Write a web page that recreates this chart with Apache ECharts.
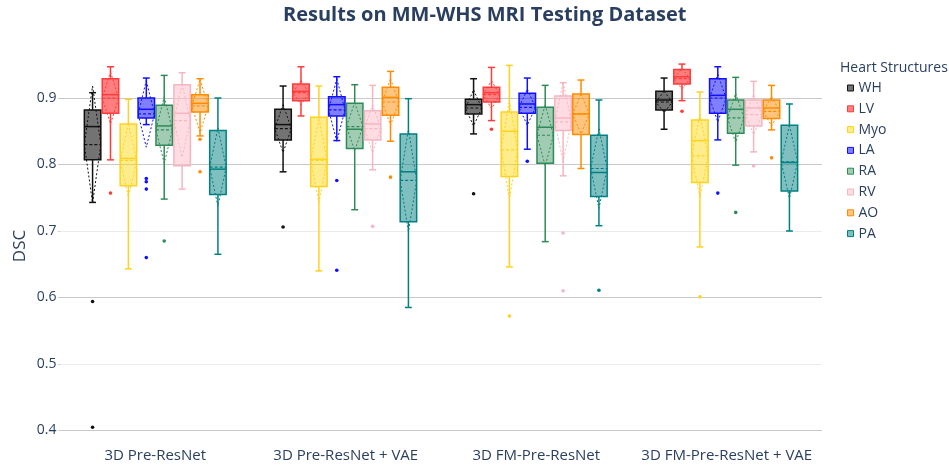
<!DOCTYPE html>
<html>
<head>
<meta charset="utf-8">
<script src="https://cdn.jsdelivr.net/npm/echarts@6/dist/echarts.min.js"></script>
<style>
  html, body { margin: 0; padding: 0; background: #ffffff; }
  #chart { width: 949px; height: 465px; }
</style>
</head>
<body>
<div id="chart"></div>
<script>
// Methods on the x axis
const methods = ['3D Pre-ResNet', '3D Pre-ResNet + VAE', '3D FM-Pre-ResNet', '3D FM-Pre-ResNet + VAE'];
// Heart structures, one box per method each
const structures = ['WH', 'LV', 'Myo', 'LA', 'RA', 'RV', 'AO', 'PA'];
// Y-axis tick values
const yTicks = [0.4, 0.5, 0.6, 0.7, 0.8, 0.9];

// Box statistics per method: [lowerFence, q1, median, q3, upperFence, mean, sd]
const WH  = [[0.743, 0.807, 0.857, 0.882, 0.908, 0.830, 0.088],
             [0.789, 0.837, 0.860, 0.883, 0.918, 0.854, 0.036],
             [0.846, 0.876, 0.890, 0.898, 0.929, 0.885, 0.027],
             [0.853, 0.882, 0.897, 0.910, 0.930, 0.894, 0.016]];
const LV  = [[0.807, 0.877, 0.905, 0.929, 0.947, 0.900, 0.039],
             [0.873, 0.896, 0.910, 0.921, 0.947, 0.908, 0.018],
             [0.866, 0.894, 0.908, 0.916, 0.946, 0.905, 0.021],
             [0.896, 0.921, 0.932, 0.943, 0.951, 0.929, 0.015]];
const Myo = [[0.643, 0.768, 0.809, 0.861, 0.898, 0.806, 0.055],
             [0.640, 0.767, 0.808, 0.871, 0.918, 0.806, 0.063],
             [0.646, 0.782, 0.850, 0.879, 0.949, 0.822, 0.074],
             [0.676, 0.773, 0.836, 0.867, 0.909, 0.813, 0.062]];
const LA  = [[0.860, 0.870, 0.883, 0.900, 0.930, 0.876, 0.050],
             [0.836, 0.873, 0.890, 0.902, 0.932, 0.882, 0.047],
             [0.823, 0.877, 0.891, 0.907, 0.930, 0.886, 0.027],
             [0.837, 0.877, 0.904, 0.929, 0.947, 0.900, 0.036]];
const RA  = [[0.748, 0.829, 0.858, 0.889, 0.934, 0.852, 0.050],
             [0.732, 0.824, 0.853, 0.892, 0.920, 0.857, 0.036],
             [0.684, 0.802, 0.856, 0.886, 0.919, 0.844, 0.046],
             [0.799, 0.847, 0.883, 0.897, 0.931, 0.870, 0.037]];
const RV  = [[0.763, 0.798, 0.877, 0.920, 0.938, 0.866, 0.055],
             [0.792, 0.837, 0.861, 0.881, 0.919, 0.854, 0.036],
             [0.783, 0.851, 0.870, 0.903, 0.923, 0.864, 0.060],
             [0.819, 0.858, 0.885, 0.897, 0.925, 0.875, 0.030]];
const AO  = [[0.843, 0.879, 0.892, 0.905, 0.929, 0.888, 0.040],
             [0.835, 0.874, 0.901, 0.916, 0.940, 0.894, 0.035],
             [0.794, 0.845, 0.876, 0.906, 0.927, 0.876, 0.030],
             [0.852, 0.869, 0.885, 0.897, 0.919, 0.880, 0.022]];
const PA  = [[0.665, 0.755, 0.793, 0.851, 0.900, 0.796, 0.059],
             [0.585, 0.714, 0.789, 0.846, 0.899, 0.776, 0.077],
             [0.708, 0.752, 0.788, 0.844, 0.897, 0.794, 0.060],
             [0.700, 0.760, 0.803, 0.859, 0.891, 0.804, 0.055]];

// Outliers: [methodIndex, value]
const WH_OUT  = [[0, 0.594], [0, 0.405], [1, 0.706], [2, 0.756]];
const LV_OUT  = [[0, 0.757], [2, 0.853], [3, 0.880]];
const Myo_OUT = [[2, 0.572], [3, 0.601]];
const LA_OUT  = [[0, 0.779], [0, 0.774], [0, 0.763], [0, 0.660], [1, 0.776], [1, 0.641], [2, 0.805], [3, 0.757]];
const RA_OUT  = [[0, 0.685], [3, 0.728]];
const RV_OUT  = [[1, 0.707], [2, 0.697], [2, 0.610], [3, 0.798]];
const AO_OUT  = [[0, 0.838], [0, 0.789], [1, 0.781], [3, 0.810]];
const PA_OUT  = [[2, 0.611]];

const boxStats = [WH, LV, Myo, LA, RA, RV, AO, PA];
const outliers = [WH_OUT, LV_OUT, Myo_OUT, LA_OUT, RA_OUT, RV_OUT, AO_OUT, PA_OUT];

// Colours: outline and translucent fill per structure
const lineColors = ['#111111', '#ff3b3b', '#ffd21f', '#1010ff', '#2e8b57', '#f4b6c2', '#ff8c00', '#008080'];
const fillColors = ['rgba(0,0,0,0.55)', 'rgba(255,0,0,0.5)', 'rgba(255,215,0,0.45)', 'rgba(0,0,255,0.5)',
                    'rgba(46,139,87,0.45)', 'rgba(255,192,203,0.55)', 'rgba(255,140,0,0.5)', 'rgba(0,128,128,0.5)'];

const TEXT = '#2a3f5f';
const FONT = '"Open Sans", "Liberation Sans", sans-serif';
const GROUP_FRAC = 0.752;   // share of a category band taken by its boxes
const BOX_FRAC = 0.92;      // box width relative to its slot
const CAP_FRAC = 0.42;      // whisker cap width relative to box width

function slotGeometry(api, g, s) {
  const center = api.coord([g, 0.9])[0];
  const band = api.size([1, 0])[0];
  const slotW = band * GROUP_FRAC / structures.length;
  return { xc: center - band * GROUP_FRAC / 2 + slotW * (s + 0.5), bw: slotW * BOX_FRAC };
}

function makeBoxRenderer(s) {
  return function (params, api) {
    const g = api.value(0);
    const lo = api.value(1), q1 = api.value(2), med = api.value(3), q3 = api.value(4),
          hi = api.value(5), mean = api.value(6), sd = api.value(7);
    const { xc, bw } = slotGeometry(api, g, s);
    const y = v => api.coord([g, v])[1];
    const half = bw / 2, cap = bw * CAP_FRAC / 2;
    const stroke = lineColors[s];
    const solid = { stroke: stroke, lineWidth: 1.5, fill: null };
    const dashed = { stroke: stroke, lineWidth: 1.2, lineDash: [3, 2], fill: null };
    return {
      type: 'group',
      children: [
        { type: 'line', shape: { x1: xc, y1: y(q3), x2: xc, y2: y(hi) }, style: solid },
        { type: 'line', shape: { x1: xc - cap, y1: y(hi), x2: xc + cap, y2: y(hi) }, style: solid },
        { type: 'line', shape: { x1: xc, y1: y(q1), x2: xc, y2: y(lo) }, style: solid },
        { type: 'line', shape: { x1: xc - cap, y1: y(lo), x2: xc + cap, y2: y(lo) }, style: solid },
        { type: 'rect', shape: { x: xc - half, y: y(q3), width: bw, height: y(q1) - y(q3) },
          style: { fill: fillColors[s], stroke: stroke, lineWidth: 1.5 } },
        { type: 'line', shape: { x1: xc - half, y1: y(med), x2: xc + half, y2: y(med) }, style: solid },
        { type: 'line', shape: { x1: xc - half, y1: y(mean), x2: xc + half, y2: y(mean) }, style: dashed },
        { type: 'polygon',
          shape: { points: [[xc, y(mean + sd)], [xc + half, y(mean)], [xc, y(mean - sd)], [xc - half, y(mean)]] },
          style: { stroke: stroke, lineWidth: 1, lineDash: [2, 2], fill: null } }
      ]
    };
  };
}

function makeOutlierRenderer(s) {
  return function (params, api) {
    const g = api.value(0);
    const { xc } = slotGeometry(api, g, s);
    const p = api.coord([g, api.value(1)]);
    return { type: 'circle', shape: { cx: xc, cy: p[1], r: 1.8 }, style: { fill: lineColors[s] } };
  };
}

const series = [];
structures.forEach((name, s) => {
  series.push({
    name: name,
    type: 'custom',
    renderItem: makeBoxRenderer(s),
    encode: { x: 0, y: [1, 2, 3, 4, 5] },
    data: boxStats[s].map((row, g) => [g].concat(row)),
    z: 3
  });
  series.push({
    name: name,
    type: 'custom',
    renderItem: makeOutlierRenderer(s),
    encode: { x: 0, y: 1 },
    data: outliers[s],
    z: 4
  });
});

const chart = echarts.init(document.getElementById('chart'), null, { renderer: 'canvas' });
chart.setOption({
  animation: false,
  backgroundColor: '#ffffff',
  title: [
    { text: 'Results on MM-WHS MRI Testing Dataset', left: 283, top: 5, padding: 0,
      textStyle: { fontFamily: FONT, fontSize: 20, fontWeight: 'bold', color: TEXT } },
    { text: 'Heart Structures', left: 840, top: 61, padding: 0,
      textStyle: { fontFamily: FONT, fontSize: 14, fontWeight: 'normal', color: TEXT } }
  ],
  graphic: [
    { type: 'text', x: 20, y: 246, rotation: Math.PI / 2, silent: true,
      style: { text: 'DSC', fontFamily: FONT, fontSize: 17, fill: TEXT, align: 'center', verticalAlign: 'middle' } }
  ],
  legend: {
    orient: 'vertical', left: 847, top: 80, padding: 0,
    itemWidth: 6, itemHeight: 6, itemGap: 4.8,
    textStyle: { fontFamily: FONT, fontSize: 14, color: TEXT, lineHeight: 16 },
    selectedMode: false,
    data: structures.map((name, s) => ({
      name: name, icon: 'rect',
      itemStyle: { color: fillColors[s], borderColor: lineColors[s], borderWidth: 1 }
    }))
  },
  grid: { left: 60, right: 127, top: 31.5, bottom: 34.5, containLabel: false },
  xAxis: {
    type: 'category', data: methods, boundaryGap: true,
    axisLine: { show: false }, axisTick: { show: false }, splitLine: { show: false },
    axisLabel: { fontFamily: FONT, fontSize: 15, color: TEXT, margin: 18, interval: 0 }
  },
  yAxis: {
    type: 'value', min: 0.4, max: 1.0, interval: 0.1,
    axisLine: { show: false },
    axisTick: { show: true, length: 2, lineStyle: { color: '#cccccc' } },
    axisLabel: {
      fontFamily: FONT, fontSize: 14, color: TEXT, margin: 3.5, showMaxLabel: false,
      formatter: v => (yTicks.some(t => Math.abs(t - v) < 1e-6) ? v.toFixed(1) : '')
    },
    splitLine: {
      show: true, showMaxLine: false,
      lineStyle: { width: 1, color: ['#c9c9c9', '#ebebeb', '#c9c9c9', '#ebebeb', '#c9c9c9', '#c9c9c9', '#c9c9c9'] }
    }
  },
  series: series
});
</script>
</body>
</html>
